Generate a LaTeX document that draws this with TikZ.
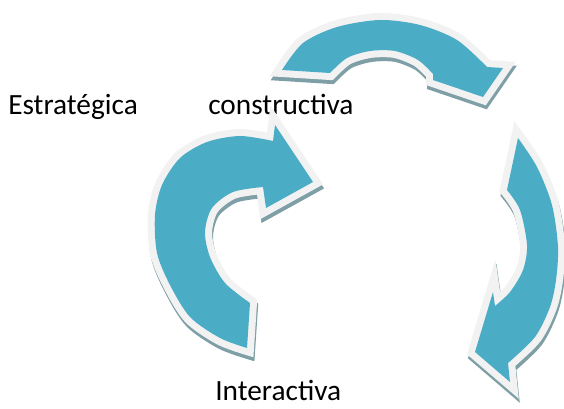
\documentclass[tikz,border=0pt]{standalone}
\usepackage{fontspec}
\setmainfont{Carlito}
\usepackage{tikz}

\definecolor{arrowblue}{HTML}{4BACC6}
\definecolor{rimgray}{HTML}{F2F2F2}
\definecolor{shadowgray}{HTML}{7F9FA7}

\tikzset{
  lbl/.style={anchor=base west, inner sep=0pt, font=\fontsize{22}{26}\selectfont},
  arrshadow/.style={draw=shadowgray, fill=shadowgray, line width=10.5pt, line join=miter, shift={(1,4)}},
  arrrim/.style={draw=rimgray, fill=rimgray, line width=10.5pt, line join=miter},
  arrbody/.style={fill=arrowblue},
  toparrow/.style={insert path={plot[smooth] coordinates {(282,70) (303,43) (337,27) (380,20) (420,25) (457,40) (487,67)}
    -- (503,68) -- (483,97) -- (433,80)
    -- plot[smooth] coordinates {(433,74) (418,60) (395,51) (370,51) (347,58) (330,73)} -- cycle}},
  leftarrow/.style={insert path={plot[smooth] coordinates {(250,303) (225,283) (210,257) (205,232) (212,208) (233,192) (263,187)}
    -- (266,208) -- (313,182) -- (275,125)
    -- plot[smooth] coordinates {(273,141) (240,136) (207,142) (180,158) (162,185) (155,215) (157,253) (170,285) (190,317) (220,338) (247,348)} -- cycle}},
  rightarrow/.style={insert path={plot[smooth] coordinates {(518,138) (537,167) (552,205) (558,247) (556,280) (550,307) (535,337) (508,363)}
    -- (510,382) -- (475,352) -- (493,292)
    -- plot[smooth] coordinates {(495,306) (510,292) (523,270) (527,245) (520,210) (507,190)} -- cycle}},
}

\begin{document}
\begin{tikzpicture}[x=0.75pt,y=-0.75pt]
\useasboundingbox (0,0) rectangle (564,409);

\node[lbl] (estr) at (8,115) {Estratégica};
\node[lbl] (constr) at (208,115) {constructiva};
\node[lbl] (inter) at (215,401) {Interactiva};

\path[arrshadow,toparrow];
\path[arrrim,toparrow];
\path[arrbody,toparrow];

\path[arrshadow,leftarrow];
\path[arrrim,leftarrow];
\path[arrbody,leftarrow];

\path[arrshadow,rightarrow];
\path[arrrim,rightarrow];
\path[arrbody,rightarrow];
\end{tikzpicture}
\end{document}
